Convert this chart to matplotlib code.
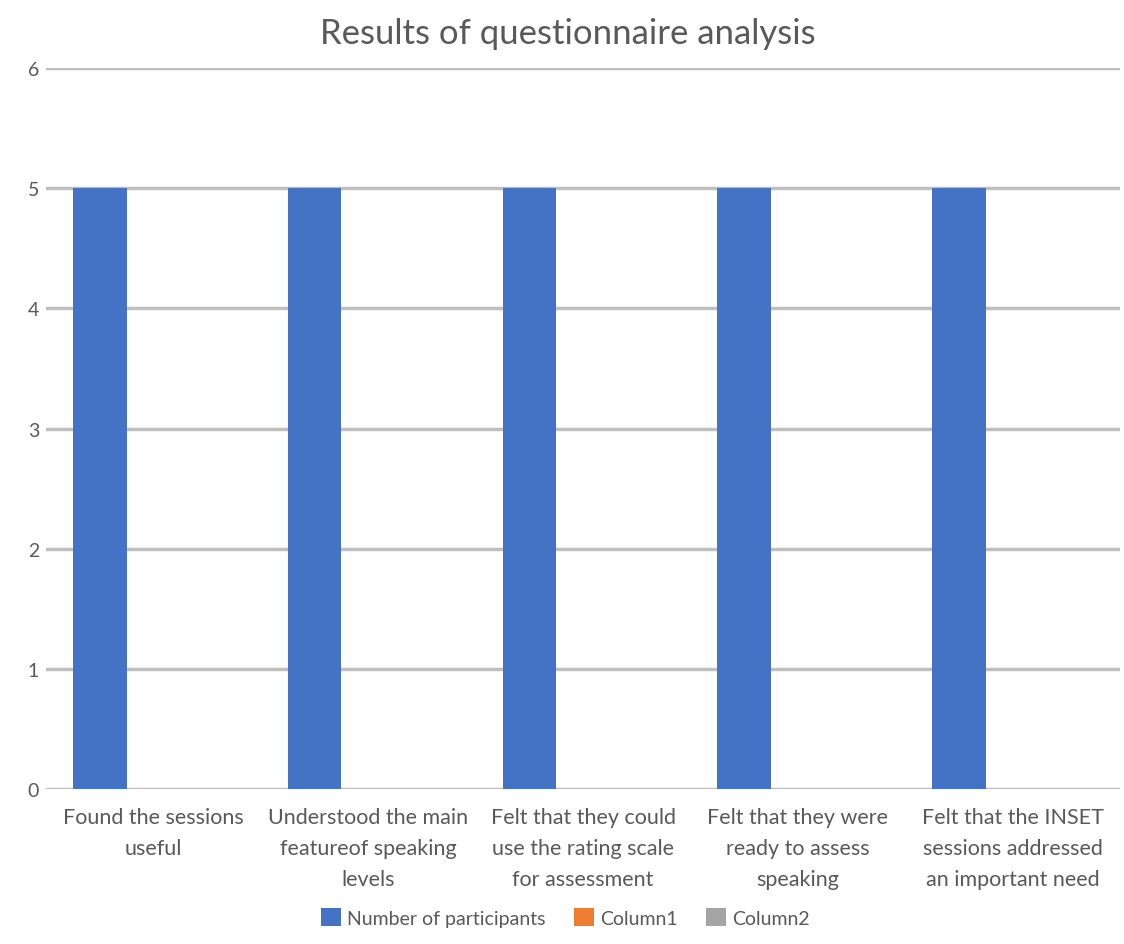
import matplotlib
matplotlib.use("Agg")
import matplotlib.pyplot as plt
import numpy as np

categories = [
    "Found the sessions\nuseful",
    "Understood the main\nfeatureof speaking\nlevels",
    "Felt that they could\nuse the rating scale\nfor assessment",
    "Felt that they were\nready to assess\nspeaking",
    "Felt that the INSET\nsessions addressed\nan important need",
]
series_names = ["Number of participants", "Column1", "Column2"]
participants = [5, 5, 5, 5, 5]
column1 = [0, 0, 0, 0, 0]
column2 = [0, 0, 0, 0, 0]
colors = ["#4472C4", "#ED7D31", "#A5A5A5"]

plt.rcParams['font.family'] = ['Lato', 'DejaVu Sans']
fig = plt.figure(figsize=(11.24, 9.45), dpi=100)
ax = fig.add_axes([0.041, 0.164, 0.9555, 0.763])

x = np.arange(len(categories))
w = 0.25
for i, (vals, name, c) in enumerate(zip([participants, column1, column2], series_names, colors)):
    ax.bar(x + (i - 1) * w, vals, width=w, color=c, label=name, linewidth=0, zorder=3)

ax.set_xlim(-0.5, len(categories) - 0.5)
ax.set_ylim(0, 6)
ax.set_yticks(range(0, 7))
ax.set_xticks(x)
ax.set_xticklabels(categories, fontsize=15.5, color="#595959", linespacing=1.7)
ax.tick_params(axis='y', labelsize=14, labelcolor="#595959", length=0, pad=5)
ax.tick_params(axis='x', length=0, pad=13)
ax.grid(axis='y', color="#BFBFBF", linewidth=2.5, zorder=0)
for s in ax.spines.values():
    s.set_visible(False)

ax.set_title("Results of questionnaire analysis", fontsize=25, color="#595959", pad=18, x=0.486)
leg = fig.legend(loc='center', bbox_to_anchor=(0.503, 0.028), ncol=3, frameon=False,
                 fontsize=14, handlelength=1.0, handleheight=1.0, handletextpad=0.3,
                 columnspacing=1.5)
for t in leg.get_texts():
    t.set_color("#595959")

fig.savefig("out.png", dpi=100)
